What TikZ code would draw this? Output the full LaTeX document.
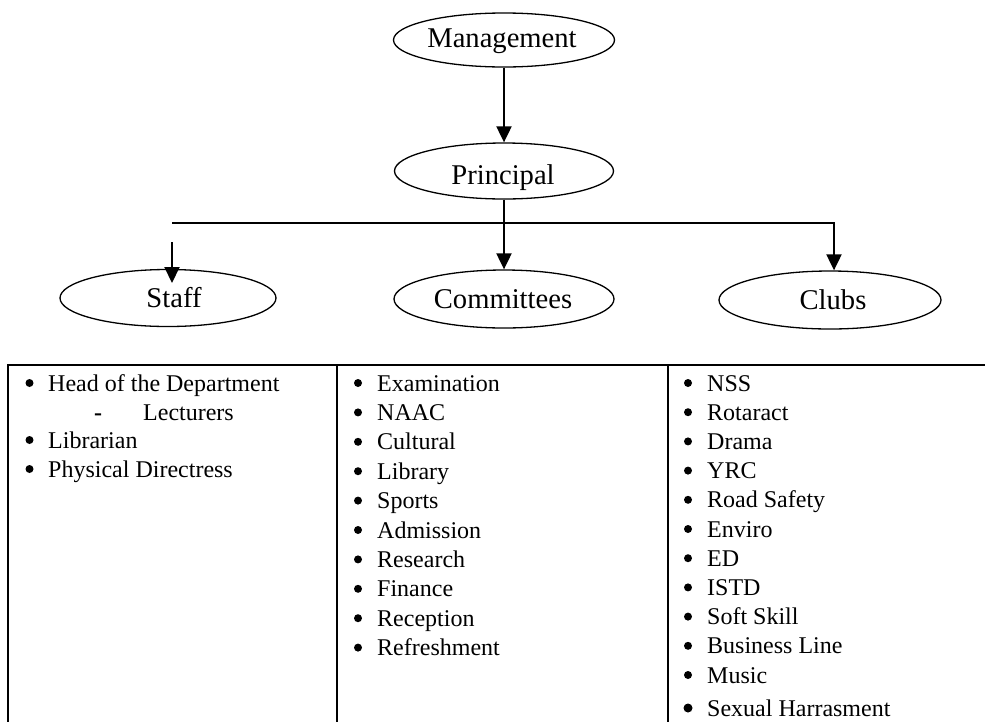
\documentclass[tikz,border=0pt]{standalone}
\usepackage{fontspec}
\setmainfont{Liberation Serif}
\usetikzlibrary{shapes.geometric,arrows.meta}

\begin{document}
\begin{tikzpicture}[x=1pt,y=-1pt,
  oval/.style={draw, ellipse, line width=1.3pt, inner sep=0pt},
  link/.style={line width=2pt},
  arr/.style={link, -{Triangle[length=16pt,width=15pt]}},
  rule/.style={line width=2.2pt},
  headtxt/.style={font=\fontsize{28.6}{28.6}\selectfont, inner sep=0pt, anchor=base},
  itemtxt/.style={font=\fontsize{24}{24}\selectfont, inner sep=0pt, anchor=base west},
  dot/.style={circle, fill, inner sep=0pt, minimum size=8pt}
]
\useasboundingbox (0,0) rectangle (985,721);

% ---- hierarchy ----
\node[oval, minimum width=221pt, minimum height=54pt] (mgmt)  at (504,40)  {};
\node[oval, minimum width=219pt, minimum height=56pt] (prin)  at (504,171) {};
\node[oval, minimum width=216pt, minimum height=57pt] (staff) at (168,298) {};
\node[oval, minimum width=220pt, minimum height=58pt] (comm)  at (504,299) {};
\node[oval, minimum width=222pt, minimum height=58pt] (clubs) at (830,300) {};

\node[headtxt] (mgmtL)  at (502,47)  {Management};
\node[headtxt] (prinL)  at (503,184) {Principal};
\node[headtxt] (staffL) at (174,307) {Staff};
\node[headtxt] (commL)  at (503,308) {Committees};
\node[headtxt] (clubsL) at (833,309) {Clubs};

\draw[arr] (mgmt.south) -- (prin.north);
\draw[arr] (prin.south) -- (comm.north);

\coordinate (busL) at (172,223);
\coordinate (busR) at (834,223);
\draw[arr] (busL) -- (busR) -- (busR |- clubs.north);

\coordinate (staffTail) at (172,242);
\coordinate (staffTip)  at (172,283);
\draw[arr] (staffTail) -- (staffTip);

% ---- table ----
\coordinate (tl) at (8,365);
\coordinate (tr) at (990,365);
\coordinate (bl) at (8,730);
\coordinate (d1) at (337,365);
\coordinate (d2) at (668,365);
\draw[rule] (tr) -- (tl) -- (bl);
\draw[rule] (d1) -- (d1 |- bl);
\draw[rule] (d2) -- (d2 |- bl);

% staff column
\node[dot]     (sb0) at (29.5,383) {};
\node[itemtxt] (st0) at (48,391)   {Head of the Department};
\node[itemtxt, anchor=base] (sdash) at (98,420) {\textbf{-}};
\node[itemtxt] (st1) at (143,420)  {Lecturers};
\node[dot]     (sb2) at (29.5,440) {};
\node[itemtxt] (st2) at (48,448)   {Librarian};
\node[dot]     (sb3) at (29.5,469) {};
\node[itemtxt] (st3) at (48,477)   {Physical Directress};

% committees column
\foreach \t [count=\i from 0] in {Examination, NAAC, Cultural, Library, Sports,
    Admission, Research, Finance, Reception, Refreshment} {
  \node[dot]     (cb\i) at (358, 383+29.4*\i) {};
  \node[itemtxt] (ct\i) at (377, 391+29.4*\i) {\t};
}

% clubs column
\foreach \t [count=\i from 0] in {NSS, Rotaract, Drama, YRC, Road Safety, Enviro,
    ED, ISTD, Soft Skill, Business Line, Music} {
  \node[dot]     (kb\i) at (688, 383+29.2*\i) {};
  \node[itemtxt] (kt\i) at (707, 391+29.2*\i) {\t};
}
\node[dot, minimum size=9pt] (kb11) at (688,708) {};
\node[itemtxt] (kt11) at (707,716) {Sexual Harrasment};
\end{tikzpicture}
\end{document}
